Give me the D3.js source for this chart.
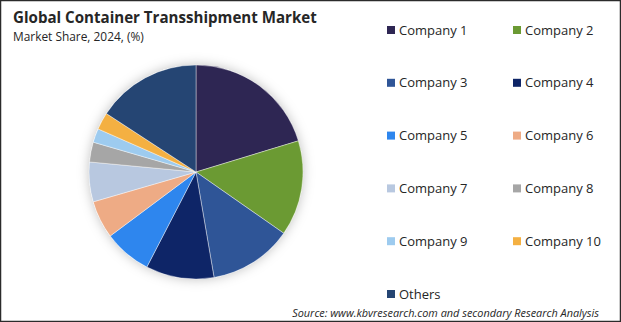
<!DOCTYPE html>
<html>
<head>
<meta charset="utf-8">
<script src="https://cdn.jsdelivr.net/npm/d3@7.9.0/dist/d3.min.js"></script>
<style>
  html, body { margin: 0; padding: 0; background: #fff; }
  svg { display: block; font-family: "Open Sans", "Noto Sans", sans-serif; }
</style>
</head>
<body>
<div id="chart"></div>
<script>
// data
const companies = ["Company 1", "Company 2", "Company 3", "Company 4", "Company 5", "Company 6",
                   "Company 7", "Company 8", "Company 9", "Company 10", "Others"];
const shares = [20.3, 14.4, 12.6, 10.3, 7.2, 5.7, 6.0, 3.0, 2.1, 2.6, 15.8];
const colors = ["#2e2653", "#6b9a33", "#2f5597", "#0e2567", "#2e86ee", "#eeab85",
                "#b8c8e0", "#a6a6a6", "#9dcbef", "#f4b042", "#254573"];

const width = 621, height = 322;

const svg = d3.select("#chart").append("svg")
  .attr("width", width)
  .attr("height", height);

svg.append("rect")
  .attr("x", 0.5).attr("y", 0.5)
  .attr("width", width - 1).attr("height", height - 1)
  .attr("fill", "#fff")
  .attr("stroke", "#2b2b2b")
  .attr("stroke-width", 1.5);

// shadow around the pie
const defs = svg.append("defs");
const f = defs.append("filter").attr("id", "glow")
  .attr("x", "-30%").attr("y", "-30%").attr("width", "160%").attr("height", "160%");
f.append("feDropShadow")
  .attr("dx", 0).attr("dy", 0).attr("stdDeviation", 6)
  .attr("flood-color", "#000").attr("flood-opacity", 0.25);

// titles
svg.append("text")
  .attr("x", 13).attr("y", 23)
  .attr("font-size", 15.1).attr("font-weight", 700).attr("fill", "#262626")
  .text("Global Container Transshipment Market");
svg.append("text")
  .attr("x", 13).attr("y", 41)
  .attr("font-size", 11.9).attr("fill", "#262626")
  .text("Market Share, 2024, (%)");

// pie
const cx = 196, cy = 172, r = 107;
const data = companies.map((c, i) => ({ name: c, value: shares[i], color: colors[i] }));
const pie = d3.pie().value(d => d.value).sort(null);
const arc = d3.arc().innerRadius(0).outerRadius(r);

const g = svg.append("g").attr("transform", `translate(${cx},${cy})`);
g.append("circle").attr("r", r).attr("fill", "#fff").attr("filter", "url(#glow)");
g.selectAll("path")
  .data(pie(data))
  .join("path")
  .attr("d", arc)
  .attr("fill", d => d.data.color)
  .attr("stroke", "#ffffff")
  .attr("stroke-width", 0.4);

// legend
const colX = [387, 513];
const rowY = d3.scalePoint().domain(d3.range(6)).range([30, 294]);
const leg = svg.append("g").selectAll("g")
  .data(data)
  .join("g")
  .attr("transform", (d, i) => `translate(${colX[i % 2]},${rowY(Math.floor(i / 2))})`);
leg.append("rect")
  .attr("x", 0).attr("y", -4).attr("width", 8).attr("height", 8)
  .attr("fill", d => d.color);
leg.append("text")
  .attr("x", 12).attr("y", 0).attr("dy", "0.35em")
  .attr("font-size", 13).attr("fill", "#262626")
  .text(d => d.name);

// source
svg.append("text")
  .attr("x", 599).attr("y", 317)
  .attr("text-anchor", "end")
  .attr("font-size", 10.9).attr("font-style", "italic").attr("fill", "#262626")
  .text("Source: www.kbvresearch.com and secondary Research Analysis");
</script>
</body>
</html>
